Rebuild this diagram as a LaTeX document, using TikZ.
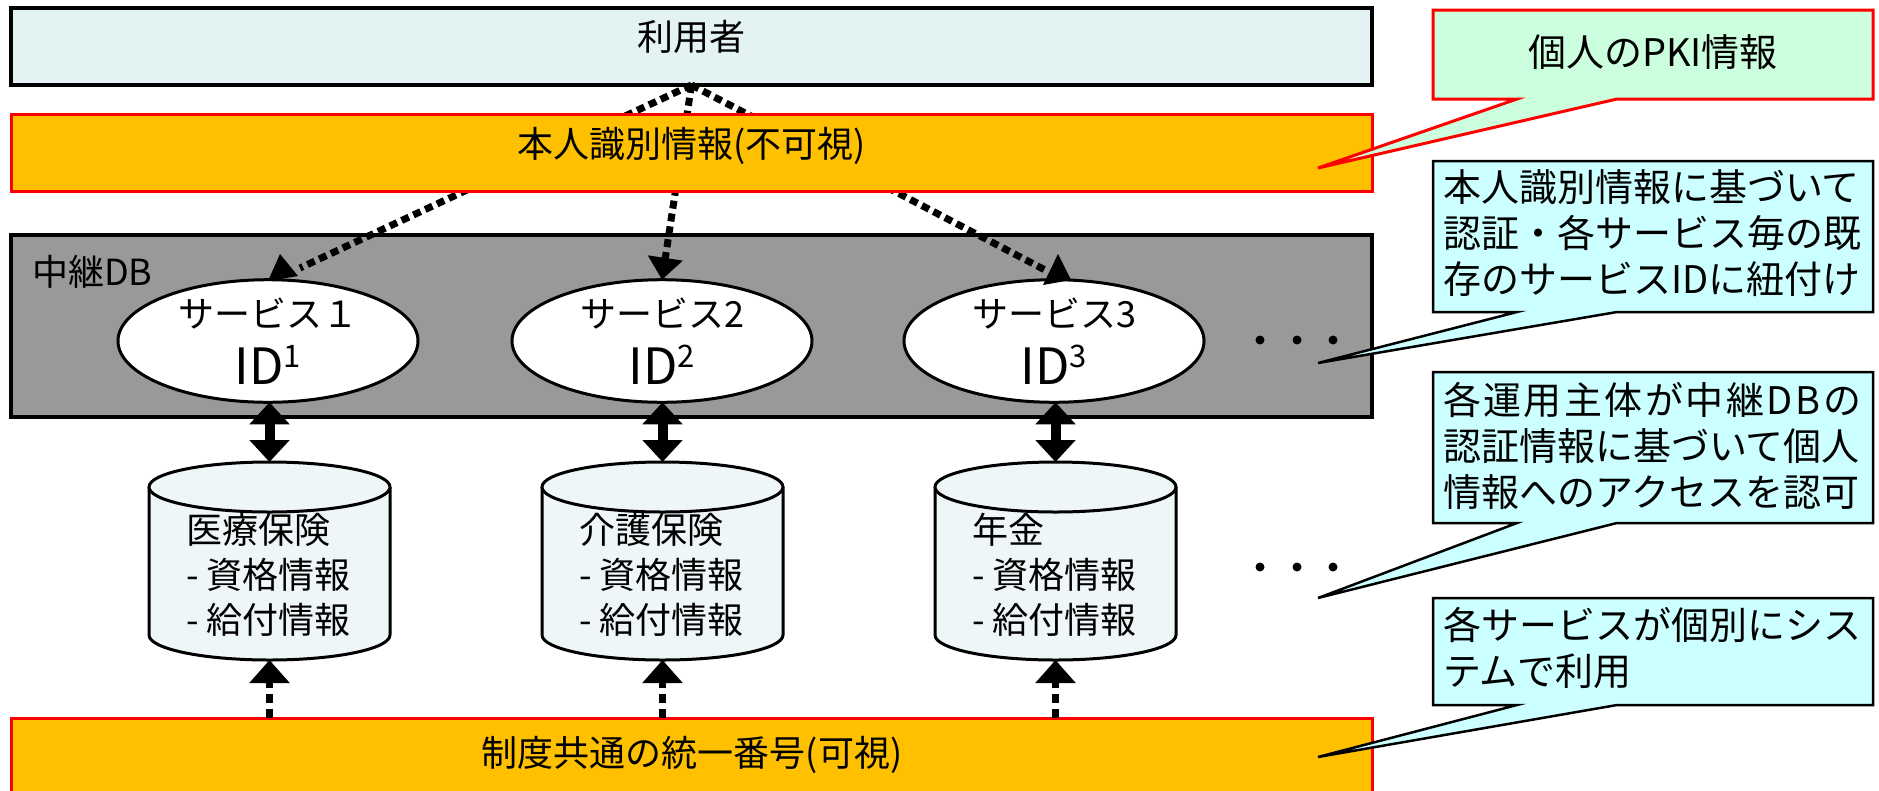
\documentclass[tikz,border=0pt]{standalone}
\usepackage{fontspec}
\setmainfont{Noto Sans CJK JP}
\usetikzlibrary{arrows.meta,calc,shapes.geometric}
\definecolor{userfill}{HTML}{E3F2F2}
\definecolor{orng}{HTML}{FFC000}
\definecolor{dbgray}{HTML}{999999}
\definecolor{cylfill}{HTML}{EEF6F8}
\definecolor{callcyan}{HTML}{CCFFFF}
\definecolor{callgreen}{HTML}{CCFFDD}
\definecolor{redline}{HTML}{FF0000}
\newcommand{\mycyl}[1]{%
  \fill[cylfill] (#1,635) ellipse [x radius=120.5, y radius=25];
  \fill[cylfill] (#1-120.5,487) rectangle (#1+120.5,635);
  \draw[cylline] (#1-120.5,487) -- (#1-120.5,635) arc[start angle=180,end angle=0,x radius=120.5,y radius=25] -- (#1+120.5,487);
  \filldraw[cylline, fill=cylfill] (#1,487) ellipse [x radius=120.5, y radius=25];
}
\newcommand{\idsup}[1]{{\fontsize{50}{58}\selectfont ID\raisebox{17pt}{\fontsize{31}{31}\selectfont #1}}}
\begin{document}
\begin{tikzpicture}[x=1pt,y=-1pt,
  every node/.style={font=\fontsize{36}{45}\selectfont, inner sep=0pt, outer sep=0pt},
  userbox/.style={draw=black, line width=4pt, fill=userfill, minimum width=1361pt, minimum height=77pt},
  orbar/.style={draw=redline, line width=3pt, fill=orng, minimum width=1361pt},
  dbbox/.style={draw=black, line width=4pt, fill=dbgray, minimum width=1361pt, minimum height=182pt},
  svc/.style={ellipse, draw=black, line width=3pt, fill=white, minimum width=300pt, minimum height=120pt, align=center, font=\fontsize{36}{57}\selectfont},
  cylline/.style={draw=black, line width=3pt},
  cylarea/.style={minimum width=241pt, minimum height=198pt},
  cyltxt/.style={anchor=west, align=left},
  dotline/.style={line width=7pt, dash pattern=on 8pt off 5pt},
  dbl/.style={line width=10pt, {Triangle[width=39pt,length=22pt]}-{Triangle[width=39pt,length=22pt]}},
  dotarr/.style={line width=7pt, dash pattern=on 9pt off 6pt, -{Triangle[width=39pt,length=23pt]}},
  callout/.style={fill=callcyan, draw=black, line width=2.5pt, line join=miter},
  ctext/.style={anchor=west, align=left, font=\fontsize{38}{46}\selectfont},
]
\useasboundingbox (0,0) rectangle (1879,790);
\fill[white] (0,0) rectangle (1879,790);

% user
\node[userbox] (user) at (691.5,46.5) {};
\node (userT) at (691.5,37) {利用者};

% relay DB
\node[dbbox] (db) at (691.5,326) {};
\node[anchor=west] (dbT) at (32,272) {中継DB};

\node[svc] (s1) at (268,341) {サービス１\\\idsup{1}};
\node[svc] (s2) at (662,341) {サービス2\\\idsup{2}};
\node[svc] (s3) at (1054,341) {サービス3\\\idsup{3}};

% dotted connectors from the user
\coordinate (l1) at (300,268);
\coordinate (l3) at (1047,271);
\draw[dotline] (user.south) -- (l1);
\draw[dotline] (user.south) -- (l3);
\draw[dotline, -{Triangle[width=34pt,length=22pt]}] (user.south) -- (s2.north);
\fill (280,254) -- (268,281) -- (298,276) -- cycle;
\fill (1058,254) -- (1043,285) -- (1071,280) -- cycle;

% identity bar
\node[orbar, minimum height=77pt] (idbar) at (691.5,152.5) {};
\node (idbarT) at (691.5,146) {本人識別情報(不可視)};

% databases
\mycyl{269.5}
\mycyl{662.5}
\mycyl{1055.5}
\node[cylarea] (c1) at (269.5,561) {};
\node[cylarea] (c2) at (662.5,561) {};
\node[cylarea] (c3) at (1055.5,561) {};
\node[cyltxt] (c1T) at (186,575) {医療保険\\- 資格情報\\- 給付情報};
\node[cyltxt] (c2T) at (579,575) {介護保険\\- 資格情報\\- 給付情報};
\node[cyltxt] (c3T) at (972,575) {年金\\- 資格情報\\- 給付情報};

\draw[dbl] (s1.south -| c1.north) -- (c1.north);
\draw[dbl] (s2.south -| c2.north) -- (c2.north);
\draw[dbl] (s3.south -| c3.north) -- (c3.north);

% common number bar
\node[orbar, minimum height=82pt] (num) at (692,759) {};
\node (numT) at (692,755) {制度共通の統一番号(可視)};

\draw[dotarr] (num.north -| c1.south) -- (c1.south);
\draw[dotarr] (num.north -| c2.south) -- (c2.south);
\draw[dotarr] (num.north -| c3.south) -- (c3.south);

% ellipsis dots
\foreach \yy in {340,567} {
  \foreach \xx in {1260,1297,1333} { \fill (\xx,\yy) circle (4.5pt); }
}

% callouts
\filldraw[callout, fill=callgreen, draw=redline, line width=3pt] (1433,10) -- (1873,10) -- (1873,99) -- (1617,99) -- (1318,168) -- (1517,99) -- (1433,99) -- cycle;
\node (k1) at (1653,52) {\fontsize{38}{46}\selectfont 個人のPKI情報};

\filldraw[callout] (1433,161) -- (1873,161) -- (1873,312) -- (1617,312) -- (1318,363) -- (1517,312) -- (1433,312) -- cycle;
\node[ctext] (k2) at (1443,233) {本人識別情報に基づいて\\認証・各サービス毎の既\\存のサービスIDに紐付け};

\filldraw[callout] (1433,372) -- (1873,372) -- (1873,523) -- (1617,523) -- (1318,598) -- (1517,523) -- (1433,523) -- cycle;
\node[ctext] (k3) at (1443,446) {\makebox[418pt][l]{各\hfill 運\hfill 用\hfill 主\hfill 体\hfill が\hfill 中\hfill 継\hfill D\hfill B\hfill の}\\認証情報に基づいて個人\\情報へのアクセスを認可};

\filldraw[callout] (1433,598) -- (1873,598) -- (1873,705) -- (1617,705) -- (1318,757) -- (1517,705) -- (1433,705) -- cycle;
\node[ctext] (k4) at (1443,648) {各サービスが個別にシス\\テムで利用};
\end{tikzpicture}
\end{document}
